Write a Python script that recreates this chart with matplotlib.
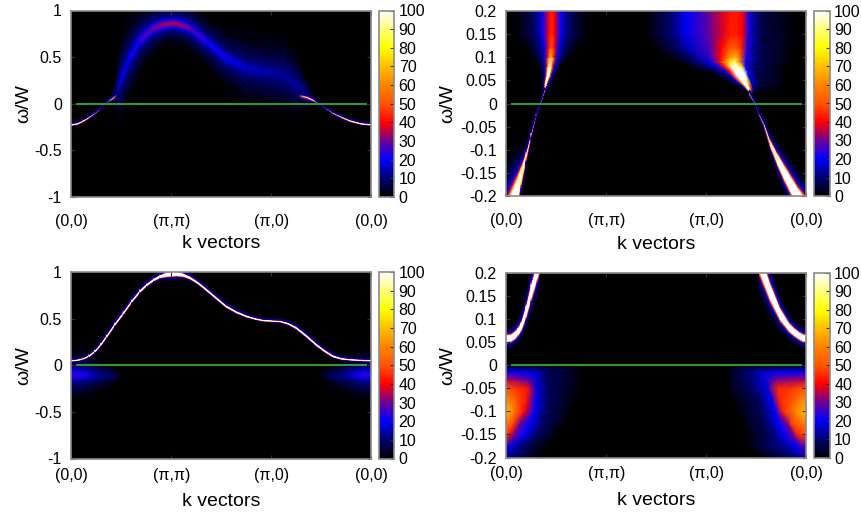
import numpy as np    # 数组操作
from matplotlib import pyplot as plt    # 绘图操作
from matplotlib.cm import ScalarMappable
from matplotlib.colors import LinearSegmentedColormap, Normalize

plt.rcParams['font.family'] = ['Liberation Sans', 'DejaVu Sans']

# palette stops
paletteStops = [0, 10, 20, 30, 40, 50, 60, 70, 80, 90, 100]
paletteColors = ['#000000', '#00006e', '#0000ff', '#6e0096', '#ff0000', '#ff5500',
                 '#ff8200', '#ffbe00', '#ffff00', '#ffff78', '#ffffff']

kTicks = [0, 1, 2, 3]
kLabels = ['(0,0)', '(π,π)', '(π,0)', '(0,0)']
wideTicks = [-1, -0.5, 0, 0.5, 1]
wideLabels = ['-1', '-0.5', '0', '0.5', '1']
zoomTicks = [-0.2, -0.15, -0.1, -0.05, 0, 0.05, 0.1, 0.15, 0.2]
zoomLabels = ['-0.2', '-0.15', '-0.1', '-0.05', '0', '0.05', '0.1', '0.15', '0.2']
barTicks = [0, 10, 20, 30, 40, 50, 60, 70, 80, 90, 100]

# line shapes across a band (offset in units of its width)
softOffset = [-5, -3.5, -2.5, -2, -1.4, -1, -0.7, -0.4, -0.2, 0, 0.2, 0.4, 0.7, 1, 1.4, 2, 2.5, 3.5, 5]
softShape = [0, 0.04, 0.12, 0.2, 0.34, 0.5, 0.67, 0.86, 0.96, 1, 0.96, 0.86, 0.67, 0.5, 0.34, 0.2, 0.12, 0.04, 0]
sharpOffset = [-3, -2, -1.5, -1.2, -1, -0.7, 0, 0.7, 1, 1.2, 1.5, 2, 3]
sharpShape = [0, 0.02, 0.06, 0.12, 0.2, 0.4, 1, 0.4, 0.2, 0.12, 0.06, 0.02, 0]

# top left: broad band above the Fermi level
tlBroadK = [0.40, 0.44, 0.47, 0.5, 0.57, 0.685, 0.82, 0.92, 1.02, 1.1, 1.19, 1.35, 1.55, 1.75, 1.95, 2.12, 2.25, 2.35, 2.42]
tlBroadW = [0.05, 0.1, 0.18, 0.28, 0.47, 0.685, 0.81, 0.85, 0.865, 0.85, 0.81, 0.67, 0.49, 0.38, 0.34, 0.31, 0.2, 0.1, 0.05]
tlBroadWidth = [0.03, 0.05, 0.09, 0.12, 0.12, 0.09, 0.065, 0.055, 0.05, 0.055, 0.06, 0.07, 0.09, 0.11, 0.12, 0.13, 0.1, 0.05, 0.02]
tlBroadAmp = [0, 10, 16, 18, 19, 24, 31, 34, 35, 34, 30, 23, 19, 16, 14, 13, 14, 12, 0]
# top left: sharp pieces
tlLeftK = [0, 0.06, 0.117, 0.18, 0.234, 0.29, 0.334, 0.385, 0.42, 0.45]
tlLeftW = [-0.22, -0.21, -0.18, -0.14, -0.10, -0.05, 0, 0.04, 0.065, 0.09]
tlLeftWidth = [0.008, 0.008, 0.009, 0.01, 0.01, 0.01, 0.01, 0.014, 0.02, 0.024]
tlLeftAmp = [260, 240, 200, 120, 70, 30, 15, 60, 85, 0]
tlRightK = [2.27, 2.31, 2.36, 2.42, 2.45, 2.49, 2.55, 2.62, 2.7, 2.79, 2.9, 3]
tlRightW = [0.085, 0.08, 0.068, 0.04, 0.02, 0, -0.05, -0.10, -0.14, -0.18, -0.21, -0.22]
tlRightWidth = [0.022, 0.02, 0.018, 0.016, 0.012, 0.008, 0.01, 0.01, 0.01, 0.009, 0.008, 0.008]
tlRightAmp = [0, 70, 95, 100, 60, 20, 40, 80, 130, 200, 240, 260]

# bottom left: sharp band and two weak patches below zero
blK = [0, 0.06, 0.117, 0.175, 0.234, 0.29, 0.35, 0.43, 0.518, 0.6, 0.685, 0.75, 0.82, 0.885, 0.95, 1.05, 1.12, 1.19,
       1.27, 1.35, 1.45, 1.55, 1.65, 1.75, 1.83, 1.92, 2.0, 2.09, 2.17, 2.25, 2.35, 2.45, 2.53, 2.62, 2.7, 2.79, 2.9, 3]
blW = [0.055, 0.06, 0.075, 0.105, 0.155, 0.225, 0.315, 0.44, 0.565, 0.69, 0.80, 0.865, 0.92, 0.955, 0.975, 0.985, 0.97,
       0.94, 0.885, 0.815, 0.725, 0.635, 0.575, 0.53, 0.505, 0.485, 0.48, 0.475, 0.45, 0.405, 0.32, 0.225, 0.16, 0.10,
       0.075, 0.065, 0.058, 0.055]
blWidth = [0.008, 0.008, 0.008, 0.01, 0.012, 0.014, 0.015, 0.015, 0.015, 0.015, 0.015, 0.014, 0.014, 0.016, 0.024, 0.026,
           0.018, 0.014, 0.013, 0.013, 0.013, 0.012, 0.011, 0.01, 0.009, 0.008, 0.008, 0.008, 0.01, 0.012, 0.013, 0.013,
           0.012, 0.011, 0.009, 0.008, 0.008, 0.008]
blAmp = [240, 240, 240, 240, 240, 240, 240, 240, 240, 240, 240, 240, 240, 240, 260, 260, 240, 240,
         240, 240, 240, 240, 240, 240, 240, 240, 240, 240, 240, 240, 240, 240, 240, 240, 240, 240, 240, 240]
blPatchLeftK = [0, 0.1, 0.2, 0.3, 0.4, 0.5]
blPatchLeftW = [-0.1, -0.1, -0.1, -0.11, -0.11, -0.11]
blPatchLeftWidth = [0.07, 0.07, 0.065, 0.055, 0.05, 0.04]
blPatchLeftAmp = [26, 24, 17, 9, 4, 0]
blPatchRightK = [2.5, 2.6, 2.7, 2.8, 2.9, 3]
blPatchRightW = [-0.11, -0.11, -0.11, -0.1, -0.1, -0.1]
blPatchRightWidth = [0.04, 0.05, 0.055, 0.065, 0.07, 0.07]
blPatchRightAmp = [0, 4, 9, 17, 24, 26]

# top right: dispersion below the strong incoherent weight
trLeftK = [0, 0.05, 0.093, 0.14, 0.193, 0.243, 0.293, 0.337, 0.377]
trLeftW = [-0.25, -0.225, -0.2, -0.16, -0.115, -0.068, -0.025, 0, 0.028]
trLeftWidth = [0.04, 0.04, 0.036, 0.022, 0.011, 0.006, 0.004, 0.003, 0.004]
trLeftAmp = [260, 260, 250, 220, 170, 100, 45, 30, 100]
trRightK = [2.43, 2.49, 2.53, 2.58, 2.64, 2.71, 2.78, 2.85, 2.91, 3]
trRightW = [0.022, 0, -0.024, -0.046, -0.086, -0.12, -0.15, -0.178, -0.2, -0.225]
trRightWidth = [0.004, 0.003, 0.004, 0.005, 0.009, 0.013, 0.017, 0.02, 0.021, 0.021]
trRightAmp = [100, 30, 45, 90, 170, 240, 260, 260, 250, 220]
# left strip, read row by row in omega
trStripW = [0.025, 0.04, 0.06, 0.08, 0.1, 0.12, 0.15, 0.2]
trStripK = [0.378, 0.395, 0.42, 0.435, 0.445, 0.45, 0.452, 0.452]
trStripWidth = [0.004, 0.008, 0.014, 0.022, 0.04, 0.06, 0.085, 0.09]
trStripAmp = [90, 130, 160, 120, 68, 50, 44, 43]
# right patch, cells follow the ridge so each row has its own k positions
trPatchW = [0.022, 0.03, 0.04, 0.05, 0.06, 0.07, 0.08, 0.09, 0.10, 0.12, 0.15, 0.2]
trPatchK = [
    [2.40, 2.42, 2.43, 2.435, 2.44, 2.445, 2.45, 2.46, 2.47, 2.55, 2.8],
    [2.33, 2.37, 2.39, 2.40, 2.41, 2.42, 2.435, 2.45, 2.47, 2.55, 2.8],
    [2.25, 2.30, 2.33, 2.35, 2.37, 2.39, 2.41, 2.43, 2.46, 2.54, 2.8],
    [2.15, 2.22, 2.26, 2.29, 2.32, 2.35, 2.38, 2.41, 2.44, 2.52, 2.8],
    [2.05, 2.14, 2.20, 2.24, 2.27, 2.31, 2.35, 2.39, 2.42, 2.5, 2.8],
    [1.95, 2.05, 2.13, 2.18, 2.23, 2.28, 2.33, 2.37, 2.41, 2.5, 2.8],
    [1.8, 1.95, 2.05, 2.12, 2.18, 2.25, 2.3, 2.35, 2.39, 2.5, 2.8],
    [1.7, 1.85, 1.95, 2.05, 2.14, 2.23, 2.28, 2.33, 2.39, 2.53, 2.85],
    [1.6, 1.8, 1.9, 2.03, 2.14, 2.23, 2.29, 2.34, 2.40, 2.54, 2.85],
    [1.5, 1.7, 1.82, 2.02, 2.15, 2.23, 2.29, 2.35, 2.41, 2.55, 2.9],
    [1.4, 1.65, 1.8, 2.0, 2.17, 2.24, 2.3, 2.36, 2.42, 2.55, 2.9],
    [1.4, 1.65, 1.8, 2.0, 2.17, 2.24, 2.3, 2.36, 2.42, 2.55, 2.9],
]
trPatch = [
    [0, 0, 0, 0, 10, 30, 10, 0, 0, 0, 0],
    [0, 1, 3, 15, 50, 100, 90, 40, 8, 2, 0],
    [0, 1, 5, 18, 60, 130, 130, 60, 14, 3, 0],
    [0, 2, 6, 20, 50, 120, 170, 80, 20, 5, 0],
    [0, 2, 6, 18, 45, 110, 180, 100, 22, 6, 0],
    [0, 3, 8, 18, 40, 100, 160, 100, 22, 6, 0],
    [0, 5, 14, 22, 42, 92, 110, 78, 22, 6, 0],
    [0, 4, 13, 22, 42, 76, 90, 62, 22, 6, 0],
    [0, 6, 13, 24, 40, 62, 70, 52, 22, 6, 0],
    [0, 8, 16, 26, 40, 50, 52, 44, 22, 6, 0],
    [0, 10, 19, 27, 38, 43, 43, 40, 22, 6, 0],
    [0, 10, 20, 28, 38, 42, 42, 40, 22, 6, 0],
]

# bottom right: two gapped bands and the lower lobes
brLeftK = [0, 0.04, 0.077, 0.11, 0.14, 0.19, 0.243, 0.3, 0.33]
brLeftW = [0.058, 0.059, 0.064, 0.072, 0.082, 0.114, 0.158, 0.2, 0.222]
brLeftWidth = [0.0085, 0.0085, 0.0085, 0.009, 0.01, 0.014, 0.018, 0.02, 0.02]
brLeftAmp = [250, 250, 250, 250, 250, 250, 250, 250, 250]
brRightK = [2.53, 2.57, 2.64, 2.74, 2.83, 2.88, 2.93, 2.97, 3]
brRightW = [0.222, 0.2, 0.158, 0.11, 0.082, 0.072, 0.064, 0.059, 0.058]
brRightWidth = [0.024, 0.024, 0.02, 0.014, 0.01, 0.009, 0.0085, 0.0085, 0.0085]
brRightAmp = [250, 250, 250, 250, 250, 250, 250, 250, 250]
brLobeW = [-0.2, -0.175, -0.15, -0.125, -0.1, -0.075, -0.05, -0.03, -0.015, -0.006, -0.002]
brLobeLeftK = [
    [0, 0.02, 0.05, 0.1, 0.2, 0.35],
    [0, 0.02, 0.05, 0.1, 0.2, 0.4],
    [0, 0.03, 0.08, 0.18, 0.31, 0.5],
    [0, 0.07, 0.14, 0.23, 0.37, 0.6],
    [0, 0.08, 0.18, 0.28, 0.41, 0.65],
    [0, 0.1, 0.2, 0.29, 0.41, 0.7],
    [0, 0.1, 0.21, 0.3, 0.41, 0.75],
    [0, 0.1, 0.2, 0.3, 0.4, 0.75],
    [0, 0.1, 0.2, 0.3, 0.4, 0.75],
    [0, 0.1, 0.2, 0.3, 0.4, 0.75],
    [0, 0.1, 0.2, 0.3, 0.4, 0.75],
]
brLobeLeft = [
    [12, 11, 10, 8, 4, 0],
    [22, 20, 18, 14, 7, 0],
    [46, 42, 30, 20, 8, 0],
    [60, 48, 30, 20, 8, 0],
    [70, 58, 40, 20, 8, 0],
    [62, 50, 42, 20, 8, 0],
    [50, 46, 42, 18, 8, 0],
    [34, 32, 28, 18, 8, 0],
    [20, 20, 19, 16, 8, 0],
    [10, 10, 10, 8, 5, 0],
    [0, 0, 0, 0, 0, 0],
]
brLobeRightK = [
    [3, 2.97, 2.93, 2.85, 2.7, 2.5],
    [3, 2.96, 2.9, 2.8, 2.6, 2.4],
    [3, 2.91, 2.86, 2.78, 2.64, 2.4],
    [3, 2.85, 2.8, 2.72, 2.58, 2.35],
    [3, 2.9, 2.76, 2.69, 2.55, 2.3],
    [3, 2.88, 2.73, 2.65, 2.53, 2.25],
    [3, 2.85, 2.71, 2.61, 2.44, 2.2],
    [3, 2.85, 2.7, 2.58, 2.4, 2.2],
    [3, 2.85, 2.7, 2.58, 2.4, 2.2],
    [3, 2.85, 2.7, 2.58, 2.4, 2.2],
    [3, 2.85, 2.7, 2.58, 2.4, 2.2],
]
brLobeRight = [
    [16, 14, 12, 9, 4, 0],
    [30, 26, 20, 14, 7, 0],
    [50, 44, 30, 20, 8, 0],
    [62, 48, 30, 20, 8, 0],
    [70, 62, 44, 20, 8, 0],
    [64, 52, 44, 20, 8, 0],
    [50, 46, 44, 18, 8, 0],
    [34, 32, 30, 18, 8, 0],
    [20, 20, 19, 17, 8, 0],
    [10, 10, 10, 8, 5, 0],
    [0, 0, 0, 0, 0, 0],
]

fermiK = [0.06, 2.95]
fermiW = [0, 0]

cmap = LinearSegmentedColormap.from_list('spectral', [(s / 100, c) for s, c in zip(paletteStops, paletteColors)], N=512)
# same palette, but the low end fades out so that meshes can overlap
overlayColors = ['#00006e00'] + paletteColors[1:]
overlay = LinearSegmentedColormap.from_list('overlay', [(s / 100, c) for s, c in zip(paletteStops, overlayColors)], N=512)
norm = Normalize(0, 100)
frameColor = '#8a8a8a'
W, H = 862, 513


def drawBand(ax, k, w, width, amp, sharp=True, alongW=False):    # 沿脊线画一条谱带
    offset = np.array(sharpOffset if sharp else softOffset)[None, :]
    shape = np.array(sharpShape if sharp else softShape)[None, :]
    k, w = np.array(k)[:, None], np.array(w)[:, None]
    width, amp = np.array(width)[:, None], np.array(amp)[:, None]
    if alongW:
        X, Y = k + width * offset, w * np.ones(offset.shape)
    else:
        X, Y = k * np.ones(offset.shape), w + width * offset
    ax.pcolormesh(X, Y, amp * shape, shading='gouraud', cmap=overlay, norm=norm)


def drawCells(ax, k, w, values):    # 每行有自己 k 位置的网格
    X = np.array(k)
    Y = np.array(w)[:, None] * np.ones(X.shape)
    ax.pcolormesh(X, Y, values, shading='gouraud', cmap=overlay, norm=norm)


def setupPanel(left, right, top, bottom, barLeft, barRight, yRange, yTicks, yLabels, xPad, yLabelX, xLabelY):    # 坐标轴和色标
    ax = fig.add_axes([left / W, 1 - bottom / H, (right - left) / W, (bottom - top) / H])
    ax.set_facecolor('black')
    ax.set_xlim(0, 3)
    ax.set_ylim(*yRange)
    ax.set_xticks(kTicks, kLabels, fontsize=11.5)
    ax.set_yticks(yTicks, yLabels, fontsize=11.5)
    ax.tick_params(direction='in', length=3, width=0.8, color='#303030', top=True, right=True)
    ax.tick_params(axis='x', pad=xPad)
    ax.tick_params(axis='y', pad=7)
    ax.set_xlabel('k vectors', fontsize=14)
    ax.set_ylabel('ω/W', fontsize=14)
    ax.xaxis.set_label_coords(0.5, (bottom - xLabelY) / (bottom - top))
    ax.xaxis.label.set_verticalalignment('center')
    ax.yaxis.set_label_coords((yLabelX - left) / (right - left), 0.5)
    ax.yaxis.label.set_verticalalignment('center')
    for spine in ax.spines.values():
        spine.set_color(frameColor)
        spine.set_linewidth(1.2)
        spine.set_zorder(5)
    cax = fig.add_axes([barLeft / W, 1 - bottom / H, (barRight - barLeft) / W, (bottom - top) / H])
    bar = fig.colorbar(ScalarMappable(norm=norm, cmap=cmap), cax=cax, ticks=barTicks)
    bar.ax.tick_params(direction='in', length=3, width=0.8, color='#303030', labelsize=11.5, pad=3)
    bar.outline.set_edgecolor(frameColor)
    bar.outline.set_linewidth(1.2)
    return ax


def drawFermi(ax):    # 费米能级
    ax.plot(fermiK, fermiW, color='#2ca02c', linewidth=1.4, zorder=4)


fig = plt.figure(figsize=(W / 100, H / 100), dpi=100)

# 左上
ax = setupPanel(71.5, 371.5, 10.5, 197, 379, 394.5, (-1, 1), wideTicks, wideLabels, 12, 24, 244)
drawBand(ax, tlBroadK, tlBroadW, tlBroadWidth, tlBroadAmp, sharp=False)
drawBand(ax, tlLeftK, tlLeftW, tlLeftWidth, tlLeftAmp)
drawBand(ax, tlRightK, tlRightW, tlRightWidth, tlRightAmp)
drawFermi(ax)

# 右上
ax = setupPanel(506.5, 806.5, 11, 196, 814, 830, (-0.2, 0.2), zoomTicks, zoomLabels, 12, 448, 244.5)
drawCells(ax, trPatchK, trPatchW, trPatch)
drawBand(ax, trStripK, trStripW, trStripWidth, trStripAmp, sharp=False, alongW=True)
drawBand(ax, trLeftK, trLeftW, trLeftWidth, trLeftAmp)
drawBand(ax, trRightK, trRightW, trRightWidth, trRightAmp)
drawFermi(ax)

# 左下
ax = setupPanel(71.5, 371.5, 272, 458.5, 379, 394.5, (-1, 1), wideTicks, wideLabels, 7, 24, 501)
drawBand(ax, blPatchLeftK, blPatchLeftW, blPatchLeftWidth, blPatchLeftAmp, sharp=False)
drawBand(ax, blPatchRightK, blPatchRightW, blPatchRightWidth, blPatchRightAmp, sharp=False)
drawBand(ax, blK, blW, blWidth, blAmp)
drawFermi(ax)

# 右下
ax = setupPanel(506.5, 806.5, 273, 457.5, 814, 830, (-0.2, 0.2), zoomTicks, zoomLabels, 6, 448, 500.5)
drawCells(ax, brLobeLeftK, brLobeW, brLobeLeft)
drawCells(ax, brLobeRightK, brLobeW, brLobeRight)
drawBand(ax, brLeftK, brLeftW, brLeftWidth, brLeftAmp)
drawBand(ax, brRightK, brRightW, brRightWidth, brRightAmp)
drawFermi(ax)

fig.savefig('out.png', dpi=100)
